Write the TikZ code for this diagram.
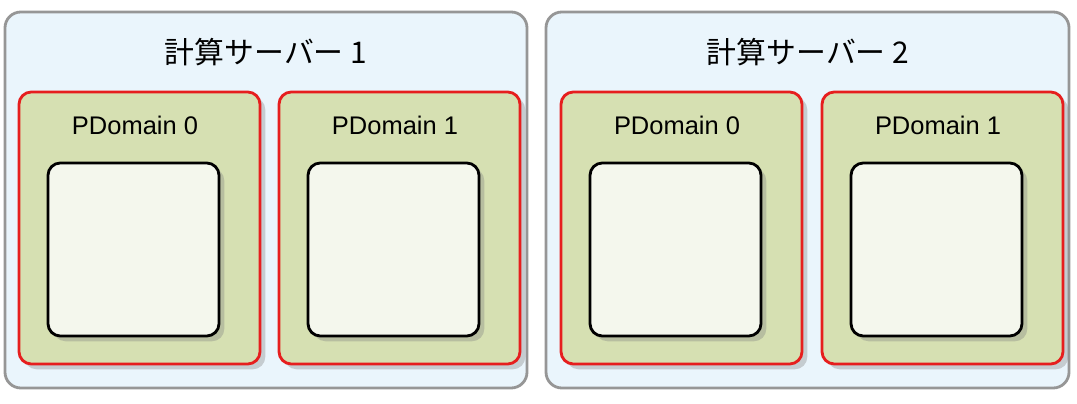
\documentclass[tikz,border=0pt]{standalone}
\usepackage{fontspec}
\setmainfont{Liberation Sans}
\newfontfamily\jpfont{Noto Sans CJK JP}
\usetikzlibrary{shadows}
\definecolor{srvfill}{RGB}{234,245,252}
\definecolor{srvline}{RGB}{150,150,150}
\definecolor{domfill}{RGB}{214,224,178}
\definecolor{domline}{RGB}{230,30,30}
\definecolor{boxfill}{RGB}{244,247,237}
\tikzset{
  server/.style={draw=srvline,line width=1.6pt,fill=srvfill,rounded corners=9pt},
  pdomain/.style={draw=domline,line width=1.6pt,fill=domfill,rounded corners=7pt,
    drop shadow={shadow xshift=3pt,shadow yshift=-3pt,opacity=0.35}},
  guest/.style={draw=black,line width=1.6pt,fill=boxfill,rounded corners=7pt,
    drop shadow={shadow xshift=3pt,shadow yshift=-3pt,opacity=0.35}}
}
\begin{document}
\begin{tikzpicture}[x=0.02cm,y=-0.02cm]
  \useasboundingbox (0,0) rectangle (1077,404);
  % servers
  \draw [server] (5,12) rectangle (527,388);
  \draw [server] (546,12) rectangle (1069,388);
  \node (t1) at (266,52) {\fontsize{17}{20}\selectfont\jpfont 計算サーバー 1};
  \node (t2) at (808,52) {\fontsize{17}{20}\selectfont\jpfont 計算サーバー 2};
  % physical domains
  \foreach \x/\n/\k in {19/0/a,279/1/b,561/0/c,822/1/d}{
    \draw [pdomain] (\x,92) rectangle ++(241,272);
    \node (l\k) at (\x+116,125) {\fontsize{14.5}{17}\selectfont PDomain \n};
    \draw [guest] (\x+29,163) rectangle ++(171,173);
  }
\end{tikzpicture}
\end{document}
